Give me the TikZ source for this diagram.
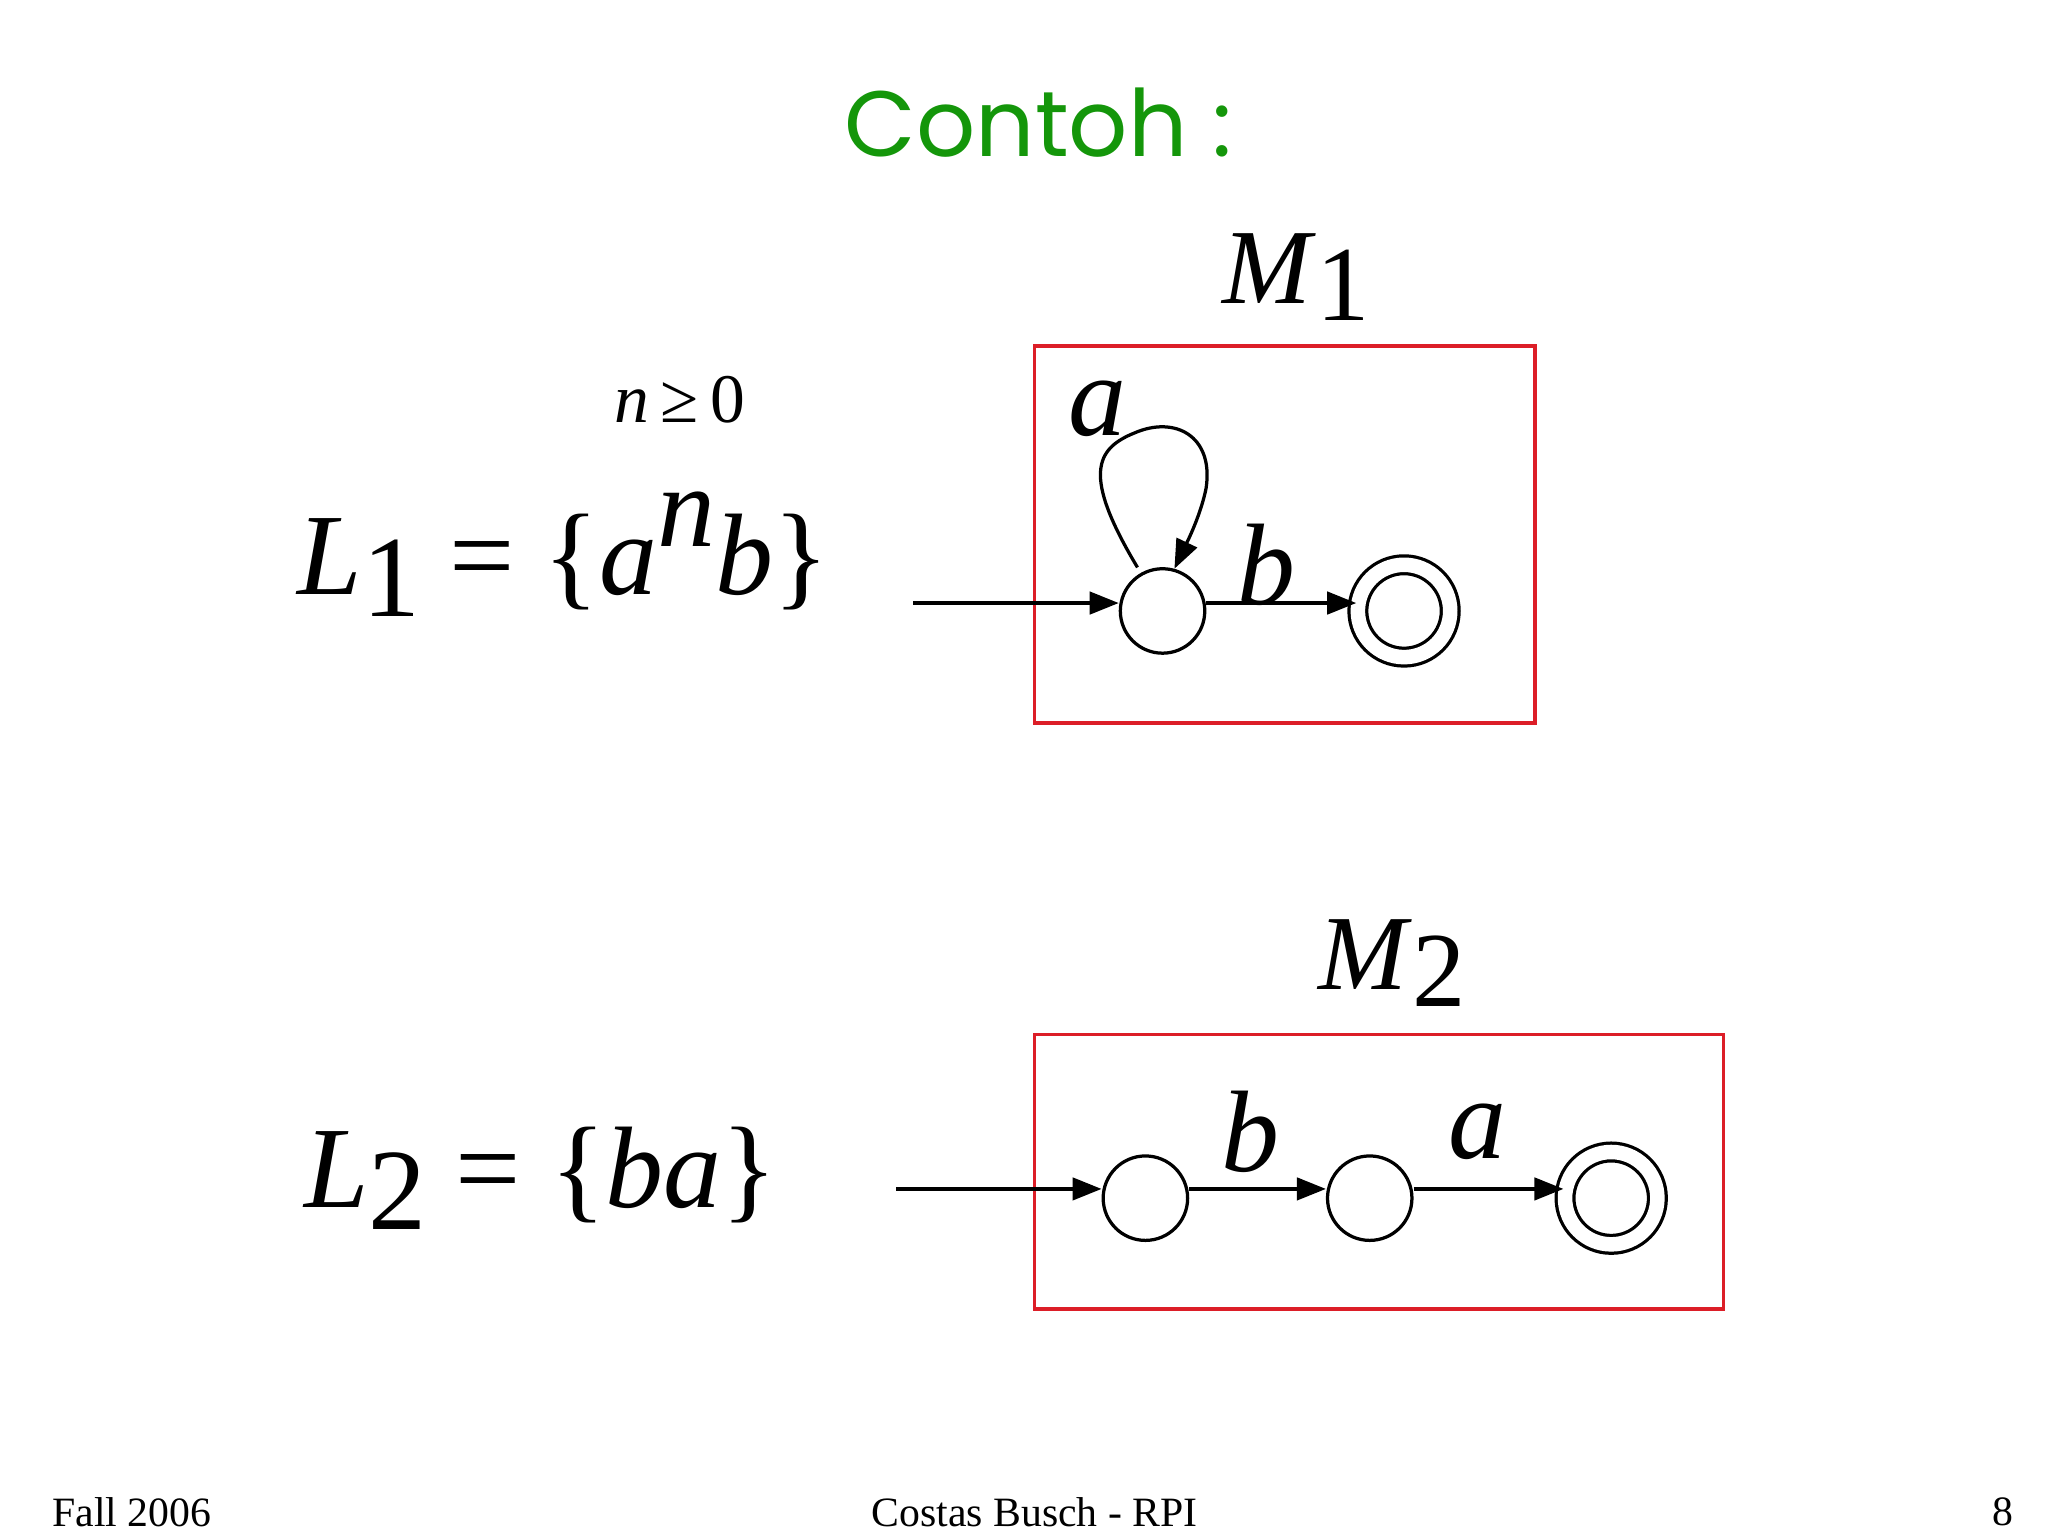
\documentclass[tikz,border=0pt]{standalone}
\usepackage{fontspec}
\setmainfont{Liberation Serif}
\newfontfamily\titlefont{Poppins}[FontFace={m}{n}{Poppins Medium}]
\usetikzlibrary{arrows.meta}
\definecolor{tgreen}{RGB}{20,150,10}
\definecolor{bred}{RGB}{220,30,40}
\tikzset{
 st/.style={circle,draw,line width=0.7pt,minimum size=0.64cm,inner sep=0pt},
 fin/.style={circle,draw,double,double distance=0.11cm,line width=0.7pt,minimum size=0.7cm,inner sep=0pt},
 tr/.style={line width=0.7pt,-{Triangle[length=0.22cm,width=0.17cm]}},
 box/.style={draw=bred,line width=0.8pt},
 lab/.style={font=\fontsize{25}{25}\selectfont\itshape,inner sep=0pt},
 foot/.style={font=\fontsize{9}{9}\selectfont},
}
\begin{document}
\begin{tikzpicture}
\useasboundingbox (0,0) rectangle (15.52,-11.64);
\node[text=tgreen,font=\titlefont\fontsize{20}{20}\selectfont] (title) at (7.87,-0.93) {Contoh :};
% M1
\node[font=\fontsize{23}{23}\selectfont] (m1) at (9.82,-2.1) {\textit{M}\raisebox{-0.35ex}{1}};
\draw[box] (7.84,-2.62) rectangle (11.63,-5.48);
\node[st] (q0) at (8.81,-4.63) {};
\node[fin] (q1) at (10.64,-4.63) {};
\coordinate (s1) at (6.92,-4.57);
\draw[tr] (s1) -- (s1 -| q0.west);
\draw[tr] (8.62,-4.30) .. controls (8.2,-3.6) and (8.3,-3.4) .. (8.6,-3.28) .. controls (8.9,-3.15) and (9.2,-3.3) .. (9.14,-3.7) .. controls (9.1,-3.9) and (9.0,-4.1) .. (8.9,-4.31);
\draw[tr] (q0.east) ++(0,0.06) coordinate (qe) -- (qe -| q1.west);
\node[lab] (la) at (8.32,-3.1) {a};
\node[lab] (lb) at (9.6,-4.28) {b};
\node[font=\fontsize{15}{15}\selectfont] (n0) at (5.15,-3.03) {\textit{n}\,≥\,0};
\node[font=\fontsize{25}{25}\selectfont] (L1) at (4.27,-4.2) {\textit{L}\raisebox{-0.4ex}{1} = \{\textit{a}\raisebox{0.9ex}{\textit{n}}\textit{b}\}};
% M2
\node[font=\fontsize{23}{23}\selectfont] (m2) at (10.55,-7.3) {\textit{M}\raisebox{-0.35ex}{2}};
\draw[box] (7.84,-7.84) rectangle (13.06,-9.92);
\node[st] (p0) at (8.68,-9.08) {};
\node[st] (p1) at (10.38,-9.08) {};
\node[fin] (p2) at (12.21,-9.08) {};
\coordinate (s2) at (6.79,-9.01);
\draw[tr] (s2) -- (s2 -| p0.west);
\draw[tr] (p0.east) ++(0,0.07) coordinate (pe) -- (pe -| p1.west);
\draw[tr] (p1.east) ++(0,0.07) coordinate (pf) -- (pf -| p2.west);
\node[lab] (l2b) at (9.48,-8.58) {b};
\node[lab] (l2a) at (11.2,-8.58) {a};
\node[font=\fontsize{25}{25}\selectfont] (L2) at (4.1,-8.93) {\textit{L}\raisebox{-0.4ex}{2} = \{\textit{ba}\}};
% footer
\node[foot] (f1) at (1.0,-11.46) {Fall 2006};
\node[foot] (f2) at (7.84,-11.46) {Costas Busch - RPI};
\node[foot] (f3) at (15.18,-11.46) {8};
\end{tikzpicture}
\end{document}
